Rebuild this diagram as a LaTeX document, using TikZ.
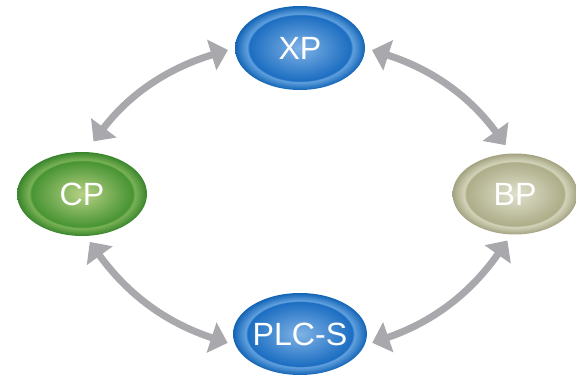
\documentclass[tikz,border=0pt]{standalone}
\usepackage{xcolor}
\usepackage{fontspec}
\setmainfont{Liberation Sans}
\usepackage{tikz}
\usetikzlibrary{shapes.geometric, arrows.meta, positioning}
\definecolor{xpin}{rgb}{0.50,0.70,0.90}
\definecolor{xpmid}{rgb}{0.11,0.43,0.76}
\definecolor{xpring}{rgb}{0.38,0.63,0.87}
\definecolor{xpedge}{rgb}{0.07,0.39,0.71}
\definecolor{cpin}{rgb}{0.72,0.82,0.52}
\definecolor{cpmid}{rgb}{0.28,0.58,0.20}
\definecolor{cpring}{rgb}{0.48,0.70,0.34}
\definecolor{cpedge}{rgb}{0.22,0.52,0.17}
\definecolor{bpin}{rgb}{0.88,0.88,0.80}
\definecolor{bpmid}{rgb}{0.68,0.68,0.54}
\definecolor{bpring}{rgb}{0.83,0.83,0.73}
\definecolor{bpedge}{rgb}{0.64,0.64,0.51}
\definecolor{arrowgray}{rgb}{0.66,0.66,0.68}
\pgfdeclareradialshading{xpshade}{\pgfpointorigin}{color(0bp)=(xpin); color(19.6bp)=(xpmid); color(20.3bp)=(xpring); color(25bp)=(xpedge); color(50bp)=(xpedge)}
\pgfdeclareradialshading{cpshade}{\pgfpointorigin}{color(0bp)=(cpin); color(19.6bp)=(cpmid); color(20.3bp)=(cpring); color(25bp)=(cpedge); color(50bp)=(cpedge)}
\pgfdeclareradialshading{bpshade}{\pgfpointorigin}{color(0bp)=(bpin); color(19.6bp)=(bpmid); color(20.3bp)=(bpring); color(25bp)=(bpedge); color(50bp)=(bpedge)}

\begin{document}
\begin{tikzpicture}[x=0.02cm, y=-0.02cm,
    blob/.style={ellipse, minimum width=2.6cm, minimum height=1.68cm, inner sep=0pt, text=white, font=\fontsize{18.3}{20}\selectfont},
    arrow/.style={{Triangle[length=0.34cm, width=0.62cm]}-{Triangle[length=0.34cm, width=0.62cm]}, line width=0.14cm, draw=arrowgray}
]
\useasboundingbox (0,0) rectangle (576,377);

\node[blob, shading=xpshade] (xp) at (300,48) {XP};
\node[blob, shading=cpshade] (cp) at (82,194) {CP};
\node[blob, shading=bpshade, minimum width=2.5cm, minimum height=1.62cm] (bp) at (515,194) {BP};
\node[blob, shading=xpshade, minimum height=1.64cm] (plc) at (300,334) {PLC-S};

\draw[arrow, shorten <=0.26cm, shorten >=0.14cm] (cp.85) to[bend left=18] (xp.west);
\draw[arrow, shorten <=0.14cm, shorten >=0.2cm] (xp.east) to[bend left=18] (bp.95);
\draw[arrow, shorten <=0.14cm, shorten >=0.16cm] (bp.265) to[bend left=18] (plc.-10);
\draw[arrow, shorten <=0.16cm, shorten >=0.14cm] (plc.190) to[bend left=18] (cp.275);

\end{tikzpicture}
\end{document}
